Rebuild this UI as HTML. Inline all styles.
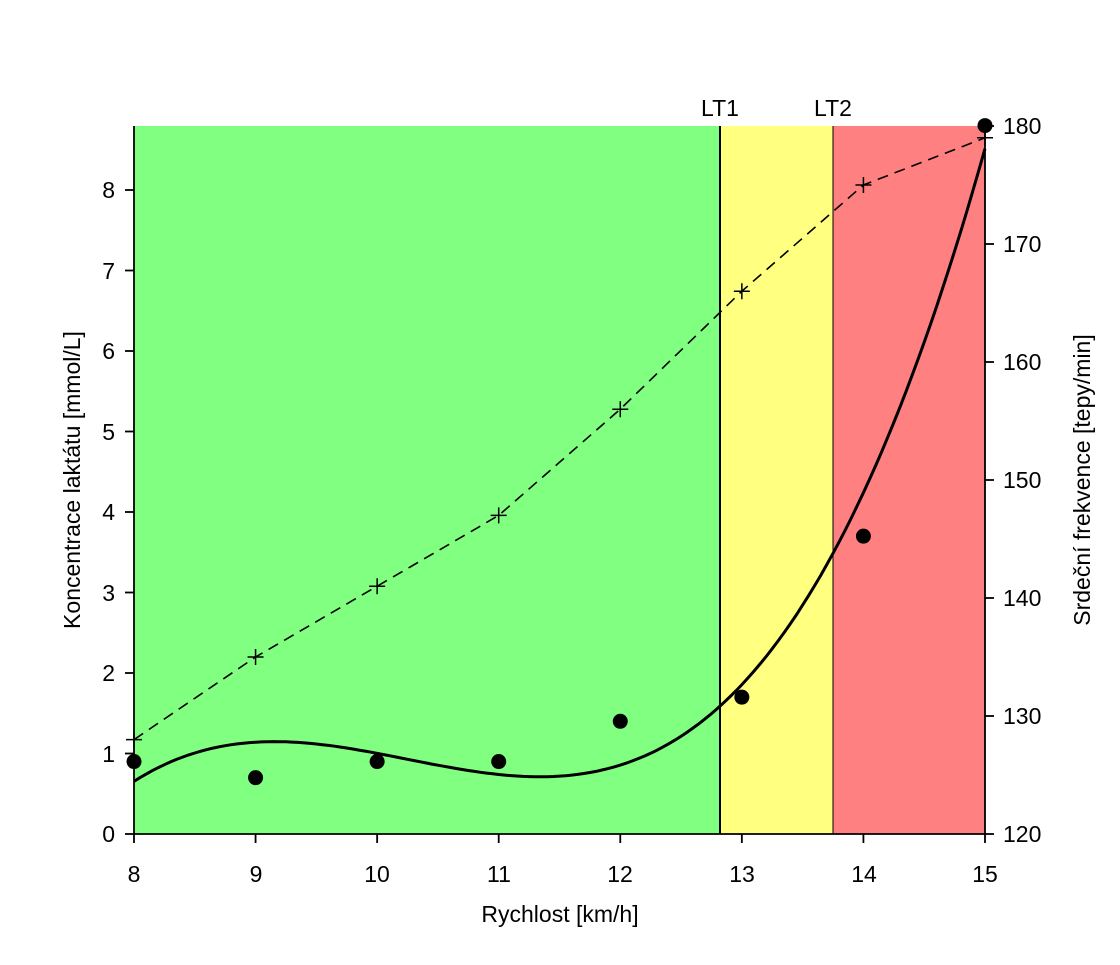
<!DOCTYPE html>
<html><head><meta charset="utf-8"><style>
body{margin:0;background:#fff;}
svg text{font-family:"Liberation Sans",sans-serif;font-size:23px;fill:#000;}
</style></head><body>
<svg id="s" width="1120" height="960" xmlns="http://www.w3.org/2000/svg">
<rect x="134" y="126" width="586" height="708" fill="#80FF80"/>
<rect x="720" y="126" width="113" height="708" fill="#FFFF80"/>
<rect x="833" y="126" width="152" height="708" fill="#FF8080"/>
<line x1="720" y1="126" x2="720" y2="834" stroke="#000" stroke-width="2"/>
<line x1="833" y1="126" x2="833" y2="834" stroke="#000" stroke-width="1"/>
<text x="720" y="116" text-anchor="middle">LT1</text>
<text x="833" y="116" text-anchor="middle">LT2</text>
<g stroke="#000" stroke-width="1.8" fill="none">
<line x1="134" y1="126" x2="134" y2="834"/>
<line x1="134" y1="834" x2="985" y2="834"/>
<line x1="985" y1="126" x2="985" y2="834"/>
</g>
<g id="ticks" stroke="#000" stroke-width="1.8"></g>
<g text-anchor="middle">
<text x="134" y="882">8</text><text x="256" y="882">9</text><text x="377" y="882">10</text><text x="499" y="882">11</text><text x="620" y="882">12</text><text x="742" y="882">13</text><text x="864" y="882">14</text><text x="985" y="882">15</text>
<text x="560" y="922">Rychlost [km/h]</text>
</g>
<g text-anchor="end">
<text x="115" y="842">0</text><text x="115" y="762">1</text><text x="115" y="681">2</text><text x="115" y="601">3</text><text x="115" y="520">4</text><text x="115" y="440">5</text><text x="115" y="359">6</text><text x="115" y="279">7</text><text x="115" y="198">8</text>
</g>
<g text-anchor="start">
<text x="1003" y="842">120</text><text x="1003" y="724">130</text><text x="1003" y="606">140</text><text x="1003" y="488">150</text><text x="1003" y="370">160</text><text x="1003" y="252">170</text><text x="1003" y="134">180</text>
</g>
<text transform="translate(80,480) rotate(-90)" text-anchor="middle">Koncentrace laktátu [mmol/L]</text>
<text transform="translate(1090,480) rotate(-90)" text-anchor="middle">Srdeční frekvence [tepy/min]</text>
<g id="data"></g>
</svg>
<script>
var X=v=>134+(v-8)*121.57, Y=l=>834-l*80.5, YH=h=>834-(h-120)*11.8;
var ns="http://www.w3.org/2000/svg";
function el(t,a,p){var e=document.createElementNS(ns,t);for(var k in a)e.setAttribute(k,a[k]);document.getElementById(p).appendChild(e);return e;}
for(var v=8;v<=15;v++)el("line",{x1:X(v),y1:834,x2:X(v),y2:843},"ticks");
for(var l=0;l<=8;l++)el("line",{x1:125,y1:Y(l),x2:134,y2:Y(l)},"ticks");
for(var h=120;h<=180;h+=10)el("line",{x1:985,y1:YH(h),x2:994,y2:YH(h)},"ticks");
var xs=[8,9,10,11,12,13,14,15],L=[0.9,0.7,0.9,0.9,1.4,1.7,3.7,8.8],H=[128,135,141,147,156,166,175,179];
el("polyline",{points:xs.map((x,i)=>X(x)+","+YH(H[i])).join(" "),fill:"none",stroke:"#000","stroke-width":1.6,"stroke-dasharray":"11,7"},"data");
xs.forEach((x,i)=>{var cx=X(x),cy=YH(H[i]);el("path",{d:`M${cx-8} ${cy}H${cx+8}M${cx} ${cy-8}V${cy+8}`,stroke:"#000","stroke-width":1.5},"data");});
var n=4,A=[],b=[];for(var i=0;i<n;i++){A.push([0,0,0,0]);b.push(0);}
xs.forEach((x,k)=>{var t=x-11.5;for(var i=0;i<n;i++){b[i]+=L[k]*Math.pow(t,i);for(var j=0;j<n;j++)A[i][j]+=Math.pow(t,i+j);}});
for(var i=0;i<n;i++){for(var r=i+1;r<n;r++){var f=A[r][i]/A[i][i];for(var j=i;j<n;j++)A[r][j]-=f*A[i][j];b[r]-=f*b[i];}}
var c=[0,0,0,0];for(var i=n-1;i>=0;i--){var s=b[i];for(var j=i+1;j<n;j++)s-=A[i][j]*c[j];c[i]=s/A[i][i];}
var pts=[];for(var v=8;v<=15.0001;v+=0.05){var t=v-11.5,y=c[0]+c[1]*t+c[2]*t*t+c[3]*t*t*t;pts.push(X(v).toFixed(1)+","+Y(y).toFixed(1));}
el("polyline",{points:pts.join(" "),fill:"none",stroke:"#000","stroke-width":3},"data");
xs.forEach((x,i)=>el("circle",{cx:X(x),cy:Y(L[i]),r:7.5,fill:"#000"},"data"));
</script>
</body></html>
